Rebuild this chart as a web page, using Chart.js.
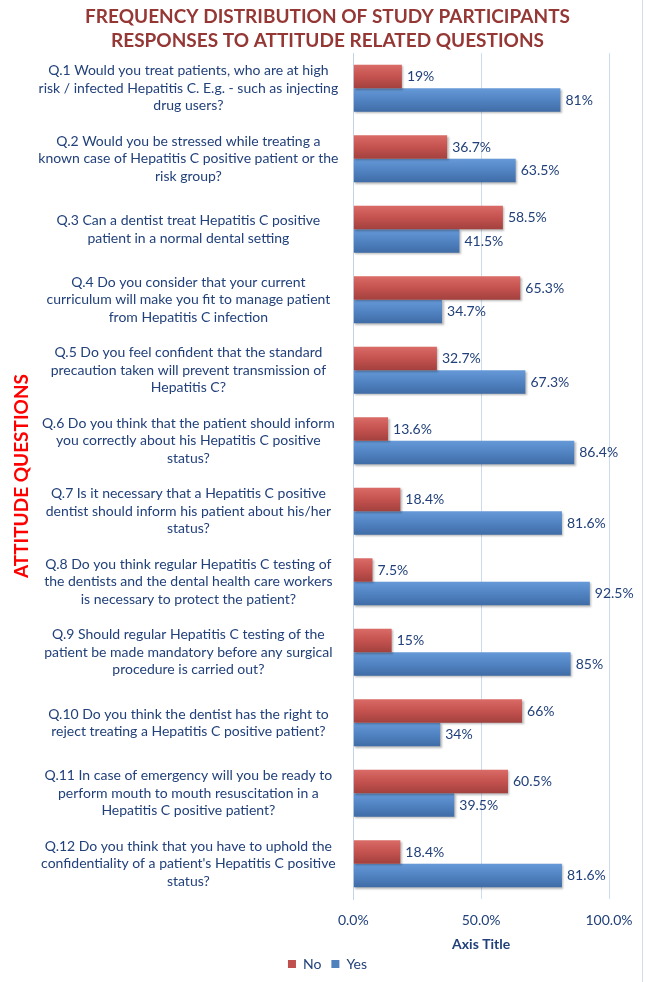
<!DOCTYPE html>
<html>
<head>
<meta charset="utf-8">
<script src="https://cdn.jsdelivr.net/npm/chart.js@4.4.1/dist/chart.umd.min.js"></script>
<style>
  html, body { margin: 0; padding: 0; background: #ffffff; }
  #wrap { position: relative; width: 647px; height: 982px; }
  #edge { position: absolute; left: 642px; top: 0; width: 1px; height: 982px; background: #D5DCE8; }
</style>
</head>
<body>
<div id="wrap">
  <canvas id="c" width="647" height="982"></canvas>
  <div id="edge"></div>
</div>
<script>
const categories = [
  ["Q.1 Would you treat patients, who are at high", "risk / infected Hepatitis C. E.g. - such as injecting", "drug users?"],
  ["Q.2 Would you be stressed while treating a", "known case of Hepatitis C positive patient or the", "risk group?"],
  ["Q.3 Can a dentist treat Hepatitis C positive", "patient in a normal dental setting"],
  ["Q.4 Do you consider that your current", "curriculum will make you fit to manage patient", "from Hepatitis C infection"],
  ["Q.5 Do you feel confident that the standard", "precaution taken will prevent transmission of", "Hepatitis C?"],
  ["Q.6 Do you think that the patient should inform", "you correctly about his Hepatitis C positive", "status?"],
  ["Q.7 Is it necessary that a Hepatitis C positive", "dentist should inform his patient about his/her", "status?"],
  ["Q.8 Do you think regular Hepatitis C testing of", "the dentists and the dental health care workers", "is necessary to protect the patient?"],
  ["Q.9 Should regular Hepatitis C testing of the", "patient be made mandatory before any surgical", "procedure is carried out?"],
  ["Q.10 Do you think the dentist has the right to", "reject treating a Hepatitis C positive patient?"],
  ["Q.11 In case of emergency will you be ready to", "perform mouth to mouth resuscitation in a", "Hepatitis C positive patient?"],
  ["Q.12 Do you think that you have to uphold the", "confidentiality of a patient's Hepatitis C positive", "status?"]
];
const seriesNames = ["No", "Yes"];
const noValues  = [19, 36.7, 58.5, 65.3, 32.7, 13.6, 18.4, 7.5, 15, 66, 60.5, 18.4];
const yesValues = [81, 63.5, 41.5, 34.7, 67.3, 86.4, 81.6, 92.5, 85, 34, 39.5, 81.6];
const xTickValues = [0, 50, 100];
const titleLines = ["FREQUENCY DISTRIBUTION OF STUDY PARTICIPANTS", "RESPONSES TO ATTITUDE RELATED QUESTIONS"];
const xAxisTitle = "Axis Title";
const yAxisTitle = "ATTITUDE QUESTIONS";

const FONT = "Lato, 'Open Sans', sans-serif";
const TEXT = "#22417A";
const CAT_PCT = 0.667;
const palettes = [
  { solid: "#C0504D", top: "#DA6B67", mid: "#C4524F", bot: "#A2413E" },
  { solid: "#4F81BD", top: "#6699D8", mid: "#5183C2", bot: "#3F6CA6" }
];

function barFill(ctx) {
  const pal = palettes[ctx.datasetIndex] || palettes[0];
  if (ctx.type !== 'data') return pal.solid;
  const chart = ctx.chart;
  const ys = chart.scales.y;
  if (!ys || !isFinite(ys.height) || ys.height <= 0) return pal.solid;
  const center = ys.getPixelForValue(ctx.dataIndex);
  const catH = ys.height / categories.length;
  const bh = catH * CAT_PCT / 2;
  const top = center - bh + ctx.datasetIndex * bh;
  const g = chart.ctx.createLinearGradient(0, top, 0, top + bh);
  g.addColorStop(0, pal.top);
  g.addColorStop(0.5, pal.mid);
  g.addColorStop(1, pal.bot);
  return g;
}

const shadowPlugin = {
  id: 'barShadow',
  beforeDatasetsDraw(chart) {
    const c = chart.ctx;
    c.save();
    c.shadowColor = 'rgba(0,0,0,0.28)';
    c.shadowBlur = 2;
    c.shadowOffsetX = 1.5;
    c.shadowOffsetY = 1.5;
  },
  afterDatasetsDraw(chart) {
    chart.ctx.restore();
  }
};

const valueLabels = {
  id: 'valueLabels',
  afterDatasetsDraw(chart) {
    const c = chart.ctx;
    c.save();
    c.font = "14px " + FONT;
    c.fillStyle = TEXT;
    c.textAlign = 'left';
    c.textBaseline = 'middle';
    chart.data.datasets.forEach((ds, di) => {
      const meta = chart.getDatasetMeta(di);
      meta.data.forEach((el, i) => {
        c.fillText(ds.data[i] + '%', el.x + 5, el.y);
      });
    });
    c.restore();
  }
};

new Chart(document.getElementById('c'), {
  type: 'bar',
  data: {
    labels: categories,
    datasets: [
      { label: seriesNames[0], data: noValues, backgroundColor: barFill, borderWidth: 0 },
      { label: seriesNames[1], data: yesValues, backgroundColor: barFill, borderWidth: 0 }
    ]
  },
  options: {
    indexAxis: 'y',
    responsive: false,
    animation: false,
    devicePixelRatio: 1,
    datasets: { bar: { categoryPercentage: CAT_PCT, barPercentage: 1 } },
    layout: { padding: { left: 8, right: 0, top: 0, bottom: 1 } },
    plugins: {
      tooltip: { enabled: false },
      title: {
        display: true,
        text: titleLines,
        color: "#953735",
        font: { family: FONT, size: 19, weight: 'bold', lineHeight: 1.237 },
        padding: { top: 5.25, bottom: 0.85 }
      },
      legend: {
        position: 'bottom',
        labels: {
          color: TEXT,
          font: { family: FONT, size: 14 },
          boxWidth: 8,
          boxHeight: 8,
          padding: 10,
          generateLabels() {
            return seriesNames.map((n, i) => ({
              text: n, fillStyle: palettes[i].solid, strokeStyle: palettes[i].solid,
              lineWidth: 0, hidden: false, datasetIndex: i, fontColor: TEXT
            }));
          }
        }
      }
    },
    scales: {
      x: {
        min: 0, max: 100,
        afterBuildTicks(scale) { scale.ticks = xTickValues.map(v => ({ value: v })); },
        afterFit(scale) { scale.paddingRight = 38; scale.height = 48; },
        grid: { color: "#CCDCEF", drawTicks: false },
        border: { display: false },
        ticks: {
          padding: 12.6,
          color: TEXT,
          font: { family: FONT, size: 14 },
          callback: (v) => Number(v).toFixed(1) + '%'
        },
        title: {
          display: true, text: xAxisTitle, color: TEXT,
          font: { family: FONT, size: 14, weight: 'bold' },
          padding: { top: 0, bottom: -5.4 }
        }
      },
      y: {
        afterFit(scale) { scale.width = 345.3; },
        grid: { display: false, drawTicks: false },
        border: { display: true, color: "#C3D3EA" },
        ticks: {
          crossAlign: 'center',
          padding: 14.8,
          color: TEXT,
          font: { family: FONT, size: 14, lineHeight: 1.25 }
        },
        title: {
          display: true, text: yAxisTitle, color: "#FF0000",
          font: { family: FONT, size: 19, weight: 'bold' },
          padding: { top: 2.7, bottom: 0 }
        }
      }
    }
  },
  plugins: [shadowPlugin, valueLabels]
});
</script>
</body>
</html>
